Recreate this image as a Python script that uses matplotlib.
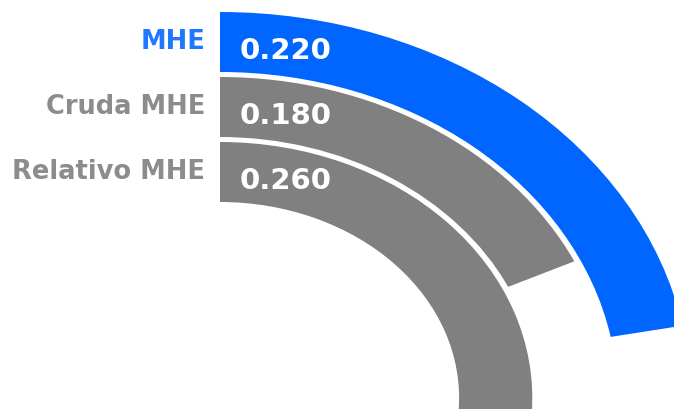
"""Radial bar chart: MHE vs Cruda MHE vs Relativo MHE (full turn = 1.0)."""
import matplotlib
matplotlib.use("Agg")
import matplotlib.pyplot as plt
from matplotlib.patches import Wedge

labels = ["MHE", "Cruda MHE", "Relativo MHE"]
values = [0.220, 0.180, 0.260]
bar_colors = ["#0066ff", "#808080", "#808080"]
label_colors = ["#1f78ff", "#8c8c8c", "#8c8c8c"]
value_max = 1.0

W, H = 674, 409
cx, cy = 220, 398          # ring centre in pixels (from top-left)
xstretch = 1.22            # rings are drawn wider than tall
r_outer, thick, step = 386, 60, 65

fig = plt.figure(figsize=(W / 100, H / 100), dpi=100)
ax = fig.add_axes([0, 0, 1, 1])
ax.set_xlim(-cx / xstretch, (W - cx) / xstretch)
ax.set_ylim(-(H - cy), cy)
ax.set_aspect("auto")
ax.axis("off")

for i, (lab, v) in enumerate(zip(labels, values)):
    r = r_outer - i * step
    ang = 360.0 * v / value_max
    ax.add_patch(Wedge((0, 0), r, 90 - ang, 90, width=thick,
                       facecolor=bar_colors[i], edgecolor="none"))
    rc = r - thick / 2
    ax.text(-12, rc, lab, ha="right", va="center", fontsize=18.5,
            fontweight="bold", color=label_colors[i])
    ax.text(16, rc - 9, f"{v:.3f}", ha="left", va="center", fontsize=21,
            fontweight="bold", color="white")

fig.savefig("out.png", dpi=100)
